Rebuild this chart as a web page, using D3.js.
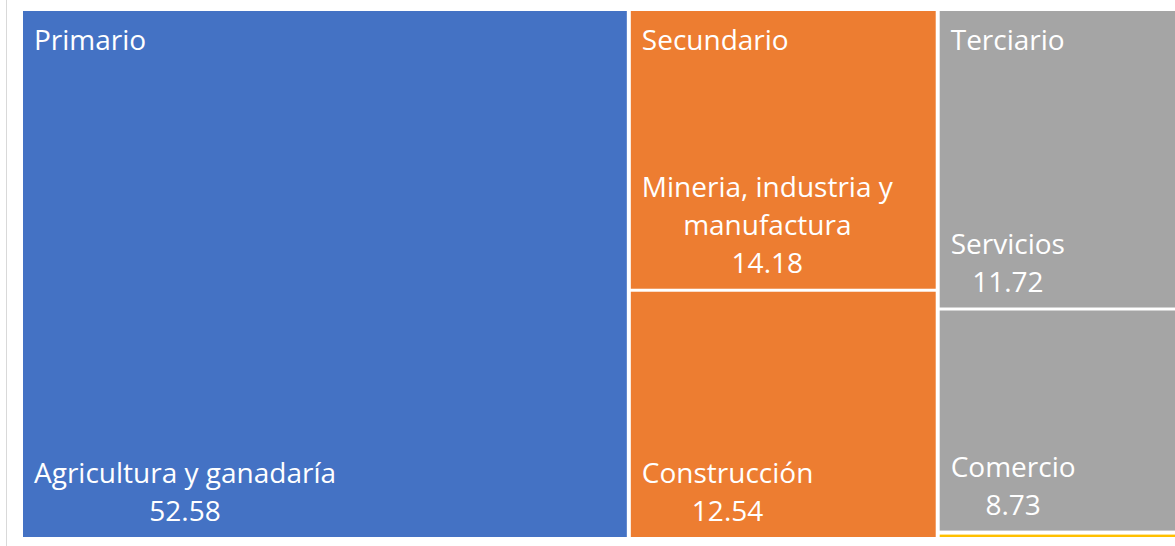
<!DOCTYPE html>
<meta charset="utf-8">
<style>
body { margin: 0; background: #fff; }
svg text { font-family: "Open Sans", "Noto Sans", sans-serif; fill: #fff; }
.parent-label { font-size: 28px; }
.leaf-label { font-size: 28px; }
</style>
<body>
<svg id="svg" width="1175" height="546"></svg>
<script src="https://cdn.jsdelivr.net/npm/d3@7"></script>
<script>
// sectors and their sub-sectors (percentages)
const sectors = ["Primario", "Secundario", "Terciario", "Otros"];
const sectorColors = ["#4472C4", "#ED7D31", "#A5A5A5", "#FFC000"];
const subsectors = ["Agricultura y ganadaría", "Mineria, industria y manufactura", "Construcción", "Servicios", "Comercio", "Otros"];
const subsectorSector = ["Primario", "Secundario", "Secundario", "Terciario", "Terciario", "Otros"];
const subsectorValues = [52.58, 14.18, 12.54, 11.72, 8.73, 0.25];

const svg = d3.select("#svg");
const margin = {top: 11, left: 23},
  width = 1152,
  height = 526;

// faint chart border on the left
svg.append("line")
  .attr("x1", 6.5).attr("x2", 6.5)
  .attr("y1", 0).attr("y2", 546)
  .attr("stroke", "#d9d9d9")
  .attr("stroke-width", 1);

const tree = {
  name: "root",
  children: sectors.map(s => ({
    name: s,
    children: subsectors
      .map((name, i) => ({name: name, sector: subsectorSector[i], value: subsectorValues[i]}))
      .filter(d => d.sector === s)
  }))
};

const root = d3.hierarchy(tree)
  .sum(d => d.value || 0)
  .sort((a, b) => b.value - a.value);

d3.treemap()
  .tile(d3.treemapSquarify.ratio(1))
  .size([width, height])
  .paddingInner(d => d.depth === 0 ? 4 : 3)
  (root);

const color = d3.scaleOrdinal().domain(sectors).range(sectorColors);
const fmt = d3.format(".2f");

const g = svg.append("g").attr("transform", "translate(" + margin.left + "," + margin.top + ")");

// leaf rectangles
g.selectAll(".leaf")
  .data(root.leaves())
  .enter().append("rect")
    .attr("class", "leaf")
    .attr("x", d => d.x0)
    .attr("y", d => d.y0)
    .attr("width", d => d.x1 - d.x0)
    .attr("height", d => d.y1 - d.y0)
    .attr("fill", d => color(d.data.sector));

// sector labels, top left of each sector
g.selectAll(".parent-label")
  .data(root.children.filter(d => d.y1 - d.y0 > 60))
  .enter().append("text")
    .attr("class", "parent-label")
    .attr("x", d => d.x0 + 11)
    .attr("y", d => d.y0 + 39)
    .text(d => d.data.name);

// sub-sector labels, anchored at the bottom, wrapped to the box width
const lineHeight = 38;
root.leaves().filter(d => d.y1 - d.y0 > 60).forEach(d => {
  const maxW = d.x1 - d.x0 - 22;
  const t = g.append("text").attr("class", "leaf-label");
  // greedy word wrap
  const words = d.data.name.split(" ");
  let lines = [], line = [];
  const probe = t.append("tspan");
  words.forEach(w => {
    line.push(w);
    probe.text(line.join(" "));
    if (probe.node().getComputedTextLength() > maxW && line.length > 1) {
      line.pop();
      lines.push(line.join(" "));
      line = [w];
    }
  });
  lines.push(line.join(" "));
  probe.remove();
  lines.push(fmt(d.value));

  // measure widest line so the block starts at the left padding
  let widest = 0;
  lines.forEach(l => {
    const m = t.append("tspan").text(l);
    widest = Math.max(widest, m.node().getComputedTextLength());
    m.remove();
  });
  const cx = d.x0 + 11 + widest / 2;
  const lastY = d.y1 - 16;
  t.attr("text-anchor", "middle");
  lines.forEach((l, i) => {
    t.append("tspan")
      .attr("x", cx)
      .attr("y", lastY - (lines.length - 1 - i) * lineHeight)
      .text(l);
  });
});
</script>
</body>
